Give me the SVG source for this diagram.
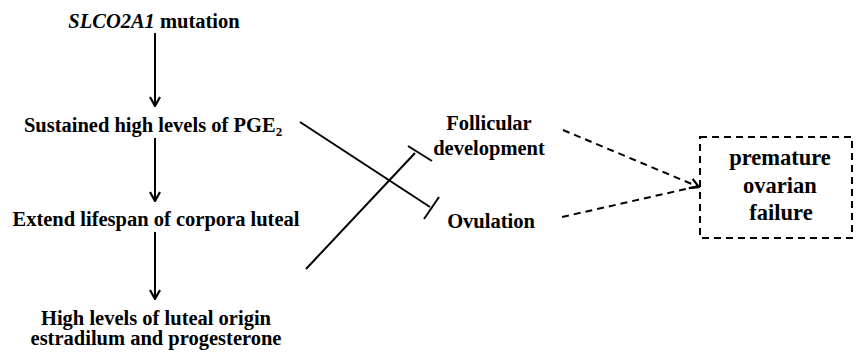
<svg xmlns="http://www.w3.org/2000/svg" width="856" height="354" viewBox="0 0 856 354">
<defs>
<style>
.t{font-size:20.5px}
.b{font-size:22.5px}
.ln{stroke:#000;stroke-width:2;fill:none}
.d{stroke:#000;stroke-width:2;fill:none;stroke-dasharray:7,5}
</style>
<marker id="ah" viewBox="0 0 12 12" refX="11" refY="6" markerWidth="12" markerHeight="12" markerUnits="userSpaceOnUse" orient="auto">
<path d="M2,1 L11,6 L2,11" fill="none" stroke="#000" stroke-width="2.2"/>
</marker>
</defs>
<rect width="856" height="354" fill="#fff"/>
<g font-family="Liberation Serif, serif" font-weight="bold" text-anchor="middle" fill="#000">
<g id="n1"><text class="t" x="154" y="28"><tspan font-style="italic">SLCO2A1</tspan> mutation</text></g>
<g id="n2"><text class="t" x="153" y="132">Sustained high levels of PGE<tspan font-size="13" dy="4">2</tspan></text></g>
<g id="n3"><text class="t" x="156" y="226">Extend lifespan of corpora luteal</text></g>
<g id="n4"><text class="t" x="156" y="325">High levels of luteal origin</text><text class="t" x="156" y="345">estradilum and progesterone</text></g>
<g id="n5"><text class="t" x="489" y="130">Follicular</text><text class="t" x="489" y="155">development</text></g>
<g id="n6"><text class="t" x="491" y="228">Ovulation</text></g>
<g id="n7"><rect class="d" x="700" y="137" width="152" height="101"/><text class="b" x="780" y="165">premature</text><text class="b" x="780" y="193">ovarian</text><text class="b" x="781" y="220">failure</text></g>
</g>
<g id="connectors">
<line class="ln" x1="155" y1="33" x2="155" y2="106" marker-end="url(#ah)"/>
<line class="ln" x1="155" y1="138" x2="155" y2="201" marker-end="url(#ah)"/>
<line class="ln" x1="155" y1="232" x2="155" y2="299" marker-end="url(#ah)"/>
<line class="ln" x1="300" y1="122" x2="430" y2="207"/>
<line class="ln" x1="439" y1="197" x2="424" y2="219"/>
<line class="ln" x1="306" y1="269" x2="415" y2="153"/>
<line class="ln" x1="408" y1="146" x2="432" y2="161"/>
<line class="d" x1="563" y1="130" x2="699" y2="187" marker-end="url(#ah)"/>
<line class="d" x1="562" y1="217" x2="699" y2="186"/>
</g>
</svg>
